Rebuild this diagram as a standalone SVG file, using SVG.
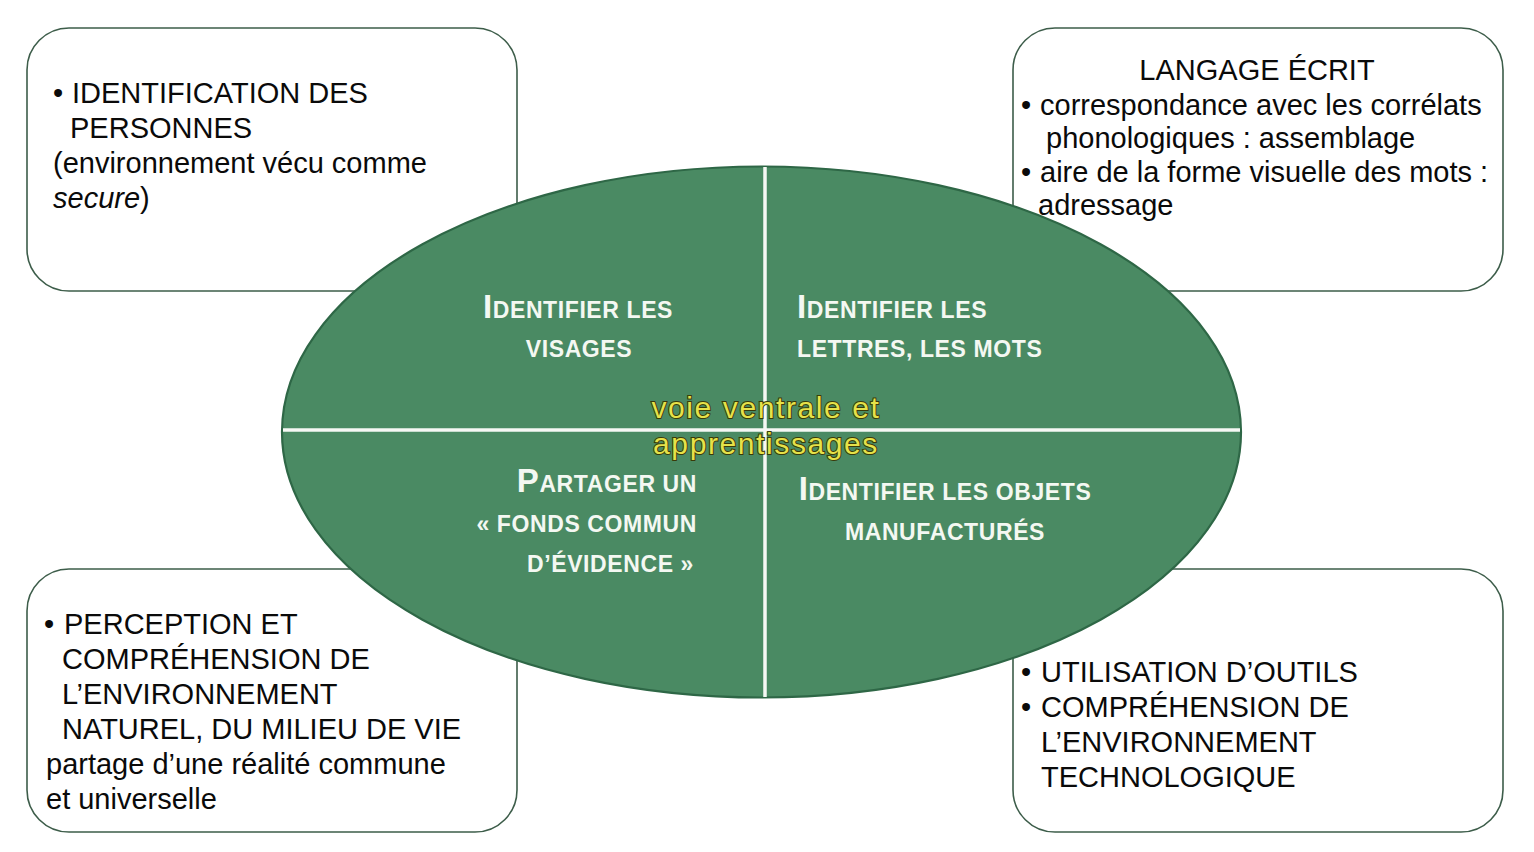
<svg xmlns="http://www.w3.org/2000/svg" width="1534" height="852" viewBox="0 0 1534 852">
<style>
.box{fill:#ffffff;stroke:#3d5d4a;stroke-width:1.6}
.bt{font-family:"Liberation Sans",Arial,sans-serif;font-size:29px;fill:#0a0a0a}
.q{font-family:"Liberation Sans",Arial,sans-serif;font-weight:bold;font-size:23px;fill:#f4f8f2;letter-spacing:0.6px}
.big{font-size:33px}
.yl{font-family:"Liberation Sans",Arial,sans-serif;font-size:30px;fill:#e6e24a;stroke:#3a3a08;stroke-width:2px;letter-spacing:1.6px;text-anchor:middle}
.div{stroke:#f6f8f4;stroke-width:3.5}
</style>
<rect width="1534" height="852" fill="#ffffff"/>
<g id="box-tl">
<rect class="box" x="27" y="28" width="490" height="263" rx="42"/>
</g>
<g id="box-tr">
<rect class="box" x="1013" y="28" width="490" height="263" rx="42"/>
</g>
<g id="box-bl">
<rect class="box" x="27" y="569" width="490" height="263" rx="42"/>
</g>
<g id="box-br">
<rect class="box" x="1013" y="569" width="490" height="263" rx="42"/>
</g>
<g id="ellipse">
<ellipse cx="761.5" cy="432" rx="479.5" ry="265.5" fill="#4a8a63" stroke="#2e6746" stroke-width="2.2"/>
</g>
<g id="connectors">
<line class="div" x1="765" y1="167" x2="765" y2="697"/>
<line class="div" x1="283" y1="430" x2="1240" y2="430"/>
</g>
<g id="text-tl">
<text class="bt" x="53" y="103">•</text>
<text class="bt" x="72" y="103">IDENTIFICATION DES</text>
<text class="bt" x="70" y="138">PERSONNES</text>
<text class="bt" x="53" y="173">(environnement vécu comme</text>
<text class="bt" x="53" y="208"><tspan font-style="italic">secure</tspan>)</text>
</g>
<g id="text-tr">
<text class="bt" x="1257" y="80" text-anchor="middle">LANGAGE ÉCRIT</text>
<text class="bt" x="1021" y="115">•</text>
<text class="bt" x="1040" y="115">correspondance avec les corrélats</text>
<text class="bt" x="1046" y="148">phonologiques : assemblage</text>
<text class="bt" x="1021" y="182">•</text>
<text class="bt" x="1040" y="182">aire de la forme visuelle des mots :</text>
<text class="bt" x="1038" y="215">adressage</text>
</g>
<g id="text-bl">
<text class="bt" x="44" y="634">•</text>
<text class="bt" x="64" y="634">PERCEPTION ET</text>
<text class="bt" x="62" y="669">COMPRÉHENSION DE</text>
<text class="bt" x="62" y="704">L’ENVIRONNEMENT</text>
<text class="bt" x="62" y="739">NATUREL, DU MILIEU DE VIE</text>
<text class="bt" x="46" y="774">partage d’une réalité commune</text>
<text class="bt" x="46" y="809">et universelle</text>
</g>
<g id="text-br">
<text class="bt" x="1021" y="682">•</text>
<text class="bt" x="1041" y="682">UTILISATION D’OUTILS</text>
<text class="bt" x="1021" y="717">•</text>
<text class="bt" x="1041" y="717">COMPRÉHENSION DE</text>
<text class="bt" x="1041" y="752">L’ENVIRONNEMENT</text>
<text class="bt" x="1041" y="787">TECHNOLOGIQUE</text>
</g>
<g id="q-tl">
<text class="q" x="578" y="318" text-anchor="middle"><tspan class="big">I</tspan>DENTIFIER LES</text>
<text class="q" x="579" y="357" text-anchor="middle">VISAGES</text>
</g>
<g id="q-tr">
<text class="q" x="797" y="318"><tspan class="big">I</tspan>DENTIFIER LES</text>
<text class="q" x="797" y="357">LETTRES, LES MOTS</text>
</g>
<g id="q-bl">
<text class="q" x="697" y="492" text-anchor="end"><tspan class="big">P</tspan>ARTAGER UN</text>
<text class="q" x="697" y="532" text-anchor="end">« FONDS COMMUN</text>
<text class="q" x="694" y="572" text-anchor="end">D’ÉVIDENCE »</text>
</g>
<g id="q-br">
<text class="q" x="945" y="500" text-anchor="middle"><tspan class="big">I</tspan>DENTIFIER LES OBJETS</text>
<text class="q" x="945" y="540" text-anchor="middle">MANUFACTURÉS</text>
</g>
<g id="center-label">
<text class="yl" x="766" y="418" paint-order="stroke">voie ventrale et</text>
<text class="yl" x="766" y="454" paint-order="stroke">apprentissages</text>
</g>
</svg>
